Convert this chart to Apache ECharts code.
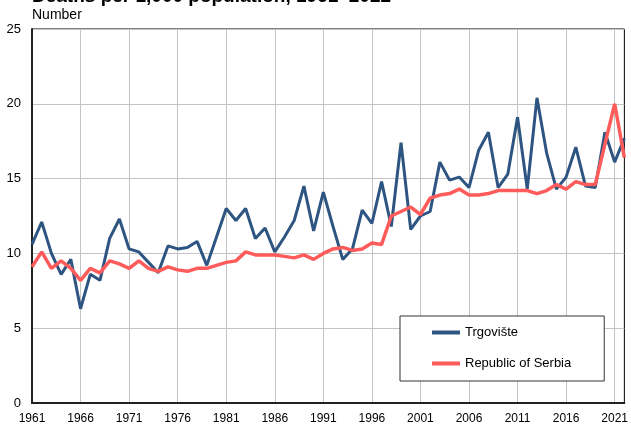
<!DOCTYPE html>
<html>
<head>
<meta charset="utf-8">
<script src="https://cdn.jsdelivr.net/npm/echarts@6/dist/echarts.min.js"></script>
<style>
html,body{margin:0;padding:0;background:#fff;}
#c{width:631px;height:428px;}
</style>
</head>
<body>
<div id="c"></div>
<script>
const years = [];
for (let y = 1961; y <= 2022; y++) years.push(String(y));

const trgoviste = [
  10.6, 12.1, 10.0, 8.6, 9.6, 6.3, 8.6, 8.2, 11.0, 12.3,
  10.3, 10.1, 9.4, 8.7, 10.5, 10.3, 10.4, 10.8, 9.2, 11.1,
  13.0, 12.2, 13.0, 11.0, 11.7, 10.1, 11.1, 12.2, 14.5, 11.5,
  14.1, 11.8, 9.6, 10.3, 12.9, 12.0, 14.8, 11.8, 17.4, 11.6,
  12.5, 12.8, 16.1, 14.9, 15.1, 14.4, 16.9, 18.1, 14.4, 15.3,
  19.1, 14.3, 20.4, 16.7, 14.3, 15.1, 17.1, 14.5, 14.4, 18.1,
  16.1, 17.7
];

const serbia = [
  9.1, 10.1, 9.0, 9.5, 9.0, 8.2, 9.0, 8.7, 9.5, 9.3,
  9.0, 9.5, 9.0, 8.8, 9.1, 8.9, 8.8, 9.0, 9.0, 9.2,
  9.4, 9.5, 10.1, 9.9, 9.9, 9.9, 9.8, 9.7, 9.9, 9.6,
  10.0, 10.3, 10.4, 10.2, 10.3, 10.7, 10.6, 12.5, 12.8, 13.1,
  12.6, 13.7, 13.9, 14.0, 14.3, 13.9, 13.9, 14.0, 14.2, 14.2,
  14.2, 14.2, 14.0, 14.2, 14.6, 14.3, 14.8, 14.6, 14.6, 17.3,
  20.0, 16.4
];

const yTicks = [0, 5, 10, 15, 20, 25];

const chart = echarts.init(document.getElementById('c'));
chart.setOption({
  backgroundColor: '#ffffff',
  animation: false,
  title: {
    text: 'Deaths per 1,000 population, 1961\u20132022',
    left: 27,
    top: -18,
    textStyle: { fontFamily: 'Liberation Sans, Arial, sans-serif', fontSize: 19, fontWeight: 'bold', color: '#000' }
  },
  graphic: [{
    type: 'text',
    left: 32,
    top: 8,
    style: { text: 'Number', font: '14px "Liberation Sans", Arial, sans-serif', fill: '#000' }
  }],
  grid: {
    left: 32, right: 3, top: 29, bottom: 25,
    show: true, borderColor: '#000', borderWidth: 1, backgroundColor: 'transparent'
  },
  legend: {
    orient: 'vertical',
    left: 400,
    top: 316,
    itemWidth: 28,
    itemHeight: 14,
    itemGap: 18,
    padding: [10, 33, 11, 30],
    borderColor: '#333',
    borderWidth: 1,
    backgroundColor: '#fff',
    itemStyle: { color: 'transparent', borderWidth: 0, opacity: 0 },
    lineStyle: { width: 4 },
    textStyle: { fontFamily: 'Liberation Sans, Arial, sans-serif', fontSize: 13, color: '#000' },
    data: ['Trgovište', 'Republic of Serbia']
  },
  xAxis: {
    type: 'category',
    data: years,
    boundaryGap: false,
    axisLine: { show: true, lineStyle: { color: '#222', width: 2 } },
    axisTick: { show: false, interval: 4 },
    axisLabel: { interval: 4, margin: 10, color: '#000', fontSize: 12, fontFamily: 'Liberation Sans, Arial, sans-serif' },
    splitLine: { show: true, interval: 4, lineStyle: { color: '#c4c4c4', width: 1 } }
  },
  yAxis: {
    type: 'value',
    min: yTicks[0],
    max: yTicks[yTicks.length - 1],
    interval: 5,
    axisLine: { show: true, lineStyle: { color: '#222', width: 2 } },
    axisTick: { show: false },
    axisLabel: { margin: 11, color: '#000', fontSize: 13, fontFamily: 'Liberation Sans, Arial, sans-serif' },
    splitLine: { show: true, lineStyle: { color: '#c4c4c4', width: 1 } }
  },
  series: [
    {
      name: 'Trgovište',
      type: 'line',
      data: trgoviste,
      symbol: 'none',
      lineStyle: { color: '#2e5581', width: 3 },
      itemStyle: { color: '#2e5581' },
      z: 3
    },
    {
      name: 'Republic of Serbia',
      type: 'line',
      data: serbia,
      symbol: 'none',
      lineStyle: { color: '#ff5b5b', width: 3.5 },
      itemStyle: { color: '#ff5b5b' },
      z: 4
    }
  ]
});
</script>
</body>
</html>
